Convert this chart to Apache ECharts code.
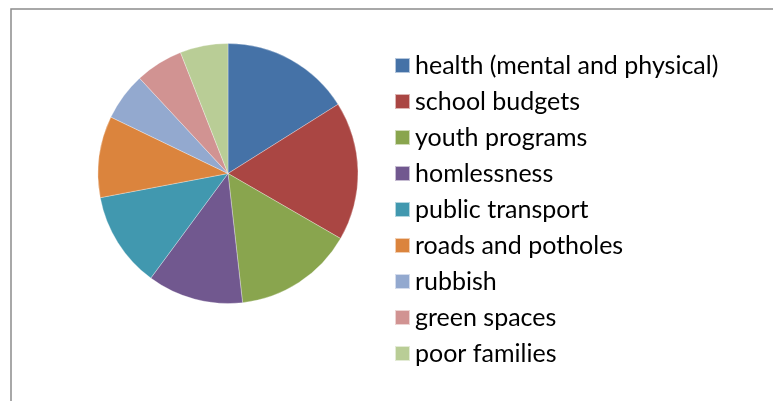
<!DOCTYPE html>
<html><head><meta charset="utf-8">
<script src="https://cdn.jsdelivr.net/npm/echarts@6/dist/echarts.min.js"></script>
<style>html,body{margin:0;padding:0;background:#fff}#c{width:773px;height:401px}</style>
</head><body><div id="c"></div>
<script>
const categories = ["health (mental and physical)","school budgets","youth programs","homlessness","public transport","roads and potholes","rubbish","green spaces","poor families"];
const values = [27, 29, 25, 20, 20, 17, 10, 10, 10];
const colors = ["#4572A7","#AA4643","#89A54E","#71588F","#4198AF","#DB843D","#93A9CF","#D19392","#B9CD96"];

const chart = echarts.init(document.getElementById('c'), null, {renderer:'canvas'});
chart.setOption({
  animation:false,
  backgroundColor:'#fff',
  color: colors,
  graphic:[{type:'rect', shape:{x:11, y:9, width:800, height:420}, style:{fill:'none', stroke:'#8c8c8c', lineWidth:1.5}, silent:true}],
  legend:{
    orient:'vertical', left:389, top:48,
    itemWidth:15, itemHeight:15, itemGap:11, icon:'rect',
    textStyle:{fontFamily:'Lato', fontSize:25, color:'#000', lineHeight:25, padding:[0,0,0,0]},
    data: categories
  },
  series:[{
    type:'pie', center:[228,173.5], radius:130, startAngle:90, clockwise:true,
    label:{show:false}, labelLine:{show:false}, emphasis:{disabled:true},
    itemStyle:{borderColor:'rgba(255,255,255,0.6)', borderWidth:0.5},
    data: categories.map((n,i)=>({name:n, value:values[i]}))
  }]
});
</script></body></html>
